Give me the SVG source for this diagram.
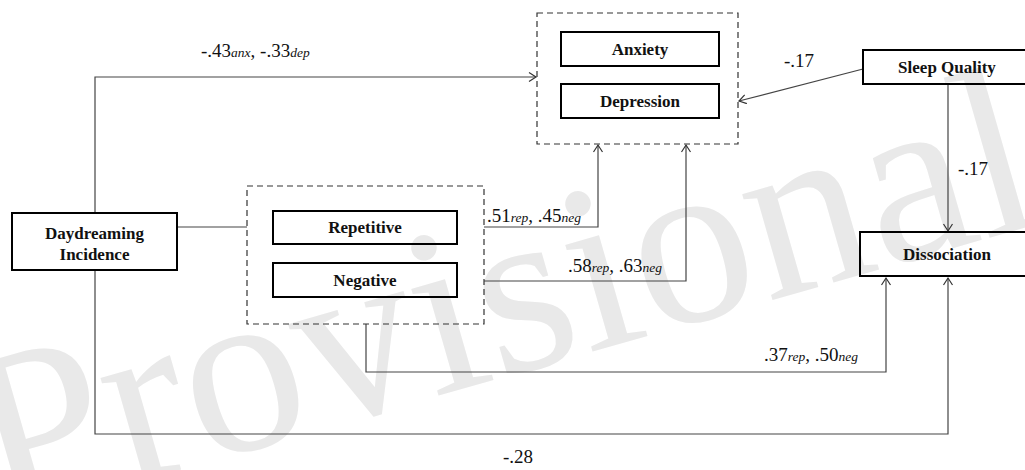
<svg xmlns="http://www.w3.org/2000/svg" width="1025" height="470" viewBox="0 0 1025 470">
<style>
text{font-family:'Liberation Serif','Times New Roman',Times,Tinos,'Noto Serif','DejaVu Serif',FreeSerif,serif}
.node{fill:none;stroke:#000;stroke-width:2}
.grp{fill:none;stroke:#333;stroke-width:1.2;stroke-dasharray:6 4}
.lbl{font-weight:bold;font-size:17px;fill:#111;text-anchor:middle}
.coef{font-size:19px;fill:#111}
.sub{font-style:italic;font-size:13.5px}
.conn path{fill:none;stroke:#444;stroke-width:1.2}
.wm{font-size:240px;fill:#e9e9e9}
</style>
<defs>
<marker id="arr" markerUnits="userSpaceOnUse" markerWidth="10" markerHeight="10" refX="8" refY="5" orient="auto">
<path d="M1,0.5 L8,5 L1,9.5" fill="none" stroke="#333" stroke-width="1.2"/>
</marker>
</defs>
<text class="wm" transform="translate(-2,522) rotate(-16)">Provisional</text>
<g id="connectors" class="conn">
<path d="M95,213 V77 H536" marker-end="url(#arr)"/>
<path d="M177,227 H247"/>
<path d="M484,227 H598 V145" marker-end="url(#arr)"/>
<path d="M484,281 H686 V145" marker-end="url(#arr)"/>
<path d="M863,69 L739,101" marker-end="url(#arr)"/>
<path d="M948,84 V231" marker-end="url(#arr)"/>
<path d="M366,324 V372 H886 V278" marker-end="url(#arr)"/>
<path d="M95,270 V434 H948 V278" marker-end="url(#arr)"/>
</g>
<g id="labels">
<text class="coef" x="201" y="57">-.43<tspan class="sub">anx</tspan>, -.33<tspan class="sub">dep</tspan></text>
<text class="coef" x="784" y="67">-.17</text>
<text class="coef" x="958" y="175">-.17</text>
<text class="coef" x="487" y="222">.51<tspan class="sub">rep</tspan>, .45<tspan class="sub">neg</tspan></text>
<text class="coef" x="568" y="272">.58<tspan class="sub">rep</tspan>, .63<tspan class="sub">neg</tspan></text>
<text class="coef" x="764" y="361">.37<tspan class="sub">rep</tspan>, .50<tspan class="sub">neg</tspan></text>
<text class="coef" x="503" y="463">-.28</text>
</g>
<g id="outcomes-group">
<rect class="grp" x="537" y="13" width="201" height="131"/>
</g>
<g id="anxiety">
<rect class="node" x="561" y="32" width="158" height="34"/>
<text class="lbl" x="640" y="55">Anxiety</text>
</g>
<g id="depression">
<rect class="node" x="561" y="84" width="158" height="34"/>
<text class="lbl" x="640" y="107">Depression</text>
</g>
<g id="daydreaming-type-group">
<rect class="grp" x="247" y="186" width="237" height="138"/>
</g>
<g id="repetitive">
<rect class="node" x="273" y="211" width="184" height="33"/>
<text class="lbl" x="365" y="233">Repetitive</text>
</g>
<g id="negative">
<rect class="node" x="273" y="263" width="184" height="34"/>
<text class="lbl" x="365" y="286">Negative</text>
</g>
<g id="daydreaming-incidence">
<rect class="node" x="12" y="213" width="165" height="57"/>
<text class="lbl" x="94.5" y="239">Daydreaming</text>
<text class="lbl" x="94.5" y="260">Incidence</text>
</g>
<g id="sleep-quality">
<rect class="node" x="863" y="50" width="170" height="34"/>
<text class="lbl" x="947" y="73">Sleep Quality</text>
</g>
<g id="dissociation">
<rect class="node" x="860" y="232" width="175" height="44"/>
<text class="lbl" x="947" y="260">Dissociation</text>
</g>
</svg>
